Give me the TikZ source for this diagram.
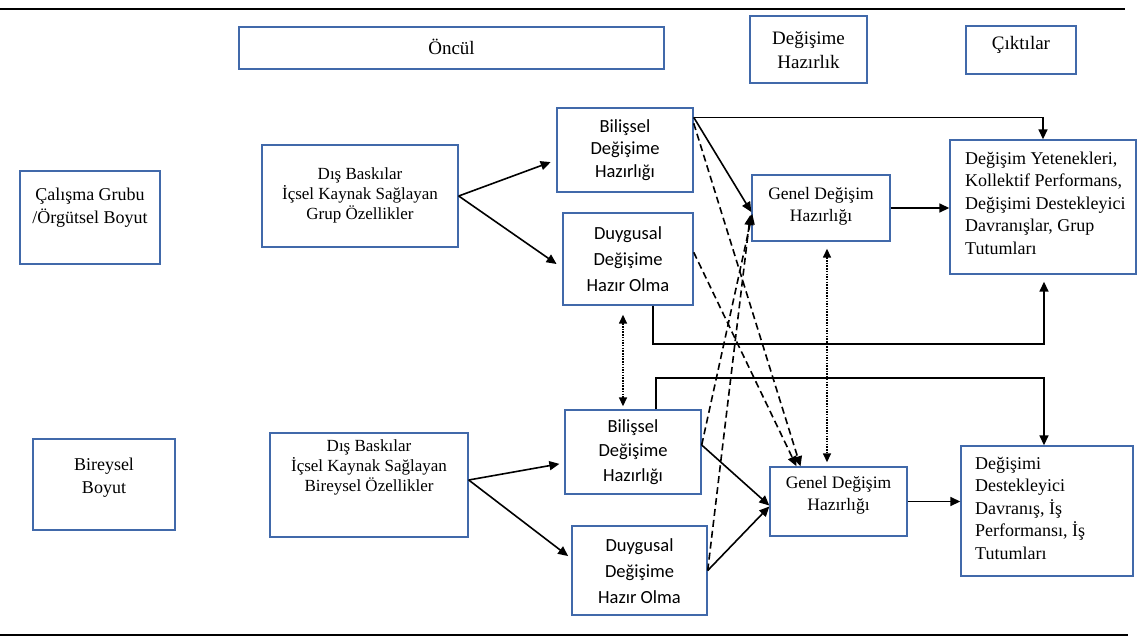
\documentclass[tikz,border=0pt]{standalone}
\usepackage{fontspec}
\setmainfont{Liberation Serif}
\newfontfamily\calibfont{Carlito}
\usetikzlibrary{arrows.meta,fit,calc}
\definecolor{frameblue}{RGB}{65,105,170}

\begin{document}
\begin{tikzpicture}[x=1pt,y=-1pt,
  frame/.style={draw=frameblue, line width=1.4pt, inner sep=0pt},
  txt/.style={inner sep=0pt, align=center, font=\fontsize{17}{20}\selectfont},
  head/.style={inner sep=0pt, align=center, font=\fontsize{19}{24}\selectfont},
  dimtxt/.style={inner sep=0pt, align=center, font=\fontsize{18}{23}\selectfont},
  outtxt/.style={inner sep=0pt, align=left, anchor=west, font=\fontsize{18}{22.5}\selectfont},
  sans/.style={inner sep=0pt, align=center, font=\calibfont\fontsize{18.5}{#1}\selectfont},
  link/.style={line width=1.6pt},
  arr/.style={line width=1.6pt, -{Triangle[length=10pt,width=9pt]}},
  dasharr/.style={arr, dash pattern=on 7pt off 4pt},
  dotarr/.style={line width=1.5pt, dash pattern=on 1.5pt off 1.2pt,
    {Triangle[length=9pt,width=8pt]}-{Triangle[length=9pt,width=8pt]}}
]
\useasboundingbox (0,0) rectangle (1141,640);

% horizontal rules above and below the model
\draw[line width=1.8pt] (0,9) -- (1125,9);
\draw[line width=1.8pt] (0,635) -- (1128,635);

% column headers
\node[frame, fit={(239,27) (664,69)}] (hdA) {};
\node[head] (hdAt) at (451.5,47) {Öncül};
\node[frame, fit={(750,16) (867,83)}] (hdB) {};
\node[head] (hdBt) at (808.5,50) {Değişime\\Hazırlık};
\node[frame, fit={(966,26) (1076,74)}] (hdC) {};
\node[head] (hdCt) at (1021,45) {Çıktılar};

% level labels
\node[frame, fit={(20,171) (160,264)}] (dimG) {};
\node[dimtxt] (dimGt) at (90,208) {Çalışma Grubu\\/Örgütsel Boyut};
\node[frame, fit={(33,439) (175,530)}] (dimI) {};
\node[dimtxt] (dimIt) at (104,478) {Bireysel\\Boyut};

% antecedents
\node[frame, fit={(262,145) (458,247)}] (antG) {};
\node[txt] (antGt) at (360,195) {Dış Baskılar\\İçsel Kaynak Sağlayan\\Grup Özellikler};
\node[frame, fit={(270,433) (468,537)}] (antI) {};
\node[txt] (antIt) at (369,467) {Dış Baskılar\\İçsel Kaynak Sağlayan\\Bireysel Özellikler};

% readiness components, group level
\node[frame, fit={(557,108) (693,192)}] (bilT) {};
\node[sans=22.5] (bilTt) at (625,150) {Bilişsel\\Değişime\\Hazırlığı};
\node[frame, fit={(563,213) (693,305)}] (duyT) {};
\node[sans=26] (duyTt) at (628,259) {Duygusal\\Değişime\\Hazır Olma};
\node[frame, fit={(752,175) (890,241)}] (genT) {};
\node[txt, font=\fontsize{17.5}{22}\selectfont] (genTt) at (821,206) {Genel Değişim\\Hazırlığı};

% readiness components, individual level
\node[frame, fit={(565,410) (701,494)}] (bilB) {};
\node[sans=24.5] (bilBt) at (633,452) {Bilişsel\\Değişime\\Hazırlığı};
\node[frame, fit={(572,526) (707,615)}] (duyB) {};
\node[sans=26] (duyBt) at (639.5,571) {Duygusal\\Değişime\\Hazır Olma};
\node[frame, fit={(770,467) (907,536)}] (genB) {};
\node[txt, font=\fontsize{17.5}{22}\selectfont] (genBt) at (838.5,495) {Genel Değişim\\Hazırlığı};

% outcomes
\node[frame, fit={(950,140) (1136,274)}] (outT) {};
\node[outtxt] (outTt) at (965,203) {Değişim Yetenekleri,\\Kollektif Performans,\\Değişimi Destekleyici\\Davranışlar, Grup\\Tutumları};
\node[frame, fit={(961,446) (1133,576)}] (outB) {};
\node[outtxt] (outBt) at (975,508) {Değişimi\\Destekleyici\\Davranış, İş\\Performansı, İş\\Tutumları};

% antecedents -> components
\draw[arr, shorten >=6pt] (antG.east) -- ([yshift=-10pt]bilT.west);
\draw[arr, shorten >=7pt] (antG.east) -- ([yshift=-9pt]duyT.west);
\draw[arr, shorten >=5pt] ([yshift=5pt]antI.east) -- ([yshift=-11pt]bilB.west);
\draw[arr, shorten >=4pt] ([yshift=5pt]antI.east) -- ([yshift=12pt]duyB.west);

% components -> general readiness
\draw[arr] ([yshift=-10pt]bilT.north east) -- ([yshift=-4pt]genT.west);
\draw[arr] ([yshift=7pt]bilB.east) -- ([yshift=-4pt]genB.west);
\draw[arr] (duyB.east) -- ([yshift=-5pt]genB.west);

% cross-level effects
\draw[dasharr] ([yshift=-16pt]bilT.north east) -- ([xshift=-38pt]genB.north);
\draw[dasharr] ([yshift=-40pt]duyT.north east) -- ([xshift=-42pt]genB.north);
\draw[dasharr] ([yshift=7pt]bilB.east) -- ([xshift=1pt,yshift=-6pt]genT.west);
\draw[dasharr] (duyB.east) -- ([xshift=-1pt,yshift=-7pt]genT.west);

% general readiness -> outcomes
\draw[arr] (genT.east) -- (genT.east -| outT.west);
\draw[arr] (genB.east) -- (genB.east -| outB.west);

% direct paths to outcomes
\draw[arr] ([yshift=-10pt]bilT.north east) -| (outT.north);
\coordinate (joinA) at (1044,344);
\draw[arr, shorten >=7pt] ([xshift=25pt]duyT.south) |- (joinA) -- (joinA |- outT.south);
\coordinate (joinB) at (1044,378);
\draw[arr] ([xshift=23pt]bilB.north) |- (joinB) -- (joinB |- outB.north);

% reciprocal links between levels
\draw[dotarr, shorten <=9pt, shorten >=3pt] ([xshift=-5pt]duyT.south) -- ([xshift=-5pt]duyT.south |- bilB.north);
\draw[dotarr, shorten <=7pt, shorten >=4pt] ([xshift=6pt]genT.south) -- ([xshift=6pt]genT.south |- genB.north);
\end{tikzpicture}
\end{document}
